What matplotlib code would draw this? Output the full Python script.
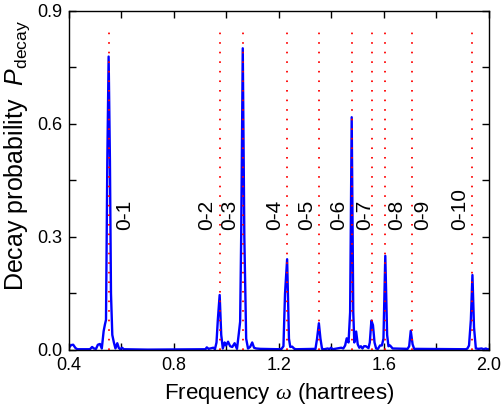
import matplotlib
matplotlib.use("Agg")
import matplotlib.pyplot as plt
from matplotlib.ticker import MultipleLocator

plt.rcParams['font.family'] = ['Liberation Sans', 'DejaVu Sans']
plt.rcParams['mathtext.fontset'] = 'custom'
plt.rcParams['mathtext.rm'] = 'Liberation Sans'
plt.rcParams['mathtext.it'] = 'Liberation Sans:italic'
plt.rcParams['mathtext.sf'] = 'Liberation Serif:italic'

# Decay spectrum (frequency in hartrees, probability)
freq = [0.400, 0.408, 0.416, 0.425, 0.432, 0.480, 0.488, 0.495, 0.503, 0.510,
        0.518, 0.525, 0.532, 0.537, 0.541, 0.546, 0.551, 0.556, 0.560, 0.565,
        0.571, 0.577, 0.584, 0.590, 0.596, 0.602, 0.609, 0.700, 0.920, 0.925,
        0.932, 0.950, 0.956, 0.962, 0.967, 0.974, 0.980, 0.986, 0.993, 0.998,
        1.006, 1.014, 1.022, 1.031, 1.040, 1.047, 1.052, 1.056, 1.062, 1.068,
        1.075, 1.082, 1.090, 1.098, 1.105, 1.113, 1.129, 1.200, 1.210, 1.217,
        1.223, 1.231, 1.238, 1.243, 1.250, 1.259, 1.266, 1.339, 1.345, 1.352,
        1.358, 1.364, 1.372, 1.386, 1.392, 1.398, 1.405, 1.437, 1.445, 1.452,
        1.458, 1.465, 1.471, 1.477, 1.483, 1.487, 1.494, 1.500, 1.506, 1.512,
        1.518, 1.524, 1.531, 1.541, 1.546, 1.552, 1.558, 1.564, 1.570, 1.577,
        1.585, 1.592, 1.598, 1.605, 1.612, 1.617, 1.623, 1.633, 1.690, 1.696,
        1.702, 1.709, 1.715, 1.912, 1.918, 1.924, 1.931, 1.937, 1.943, 1.950,
        1.960, 1.972, 1.980, 1.988, 1.994, 2.000]
prob = [0.006, 0.013, 0.014, 0.005, 0.002, 0.002, 0.008, 0.004, 0.003, 0.014,
        0.016, 0.004, 0.050, 0.068, 0.080, 0.500, 0.779, 0.500, 0.150, 0.040,
        0.020, 0.004, 0.018, 0.005, 0.002, 0.006, 0.002, 0.001, 0.002, 0.007,
        0.003, 0.006, 0.002, 0.020, 0.080, 0.146, 0.040, 0.004, 0.020, 0.012,
        0.022, 0.010, 0.008, 0.018, 0.003, 0.044, 0.075, 0.300, 0.801, 0.300,
        0.030, 0.004, 0.008, 0.020, 0.006, 0.004, 0.003, 0.002, 0.003, 0.010,
        0.150, 0.241, 0.030, 0.008, 0.009, 0.003, 0.002, 0.003, 0.030, 0.071,
        0.030, 0.003, 0.002, 0.004, 0.002, 0.006, 0.002, 0.006, 0.004, 0.012,
        0.031, 0.020, 0.100, 0.618, 0.100, 0.020, 0.049, 0.015, 0.006, 0.010,
        0.004, 0.010, 0.010, 0.005, 0.020, 0.078, 0.066, 0.020, 0.004, 0.003,
        0.012, 0.012, 0.030, 0.250, 0.040, 0.010, 0.012, 0.004, 0.003, 0.010,
        0.051, 0.015, 0.003, 0.002, 0.004, 0.012, 0.080, 0.199, 0.060, 0.004,
        0.003, 0.004, 0.002, 0.004, 0.002, 0.002]

# Transition frequencies and labels
trans_freq = [0.552, 0.974, 1.062, 1.231, 1.353, 1.477, 1.555, 1.605, 1.706, 1.937]
trans_labels = ['0-1', '0-2', '0-3', '0-4', '0-5', '0-6', '0-7', '0-8', '0-9', '0-10']
label_right_side = ['0-1', '0-8', '0-9']
line_top = 0.848

fig = plt.figure(figsize=(5.01, 4.18), dpi=100)
ax = fig.add_axes([0.1377, 0.1627, 0.8383, 0.811])

for f in trans_freq:
    ax.plot([f, f], [0, line_top], color='red', lw=1.3,
            linestyle=(0, (0.9, 4.4)), zorder=3)

ax.plot(freq, prob, color='#0000ff', lw=1.7, zorder=2)

for f, lab in zip(trans_freq, trans_labels):
    if lab in label_right_side:
        off = 0.024 if lab == '0-1' else 0.006
        ax.text(f + off, 0.318, lab, rotation=90, ha='left', va='bottom', fontsize=15)
    else:
        off = -0.006 if lab == '0-7' else 0.012
        ax.text(f - off, 0.318, lab, rotation=90, ha='right', va='bottom', fontsize=15)

ax.set_xlim(0.4, 2.0)
ax.set_ylim(0.0, 0.9)
ax.xaxis.set_major_locator(MultipleLocator(0.4))
ax.xaxis.set_minor_locator(MultipleLocator(0.2))
ax.yaxis.set_major_locator(MultipleLocator(0.3))
ax.yaxis.set_minor_locator(MultipleLocator(0.15))
ax.xaxis.set_major_formatter(plt.FormatStrFormatter('%.1f'))
ax.yaxis.set_major_formatter(plt.FormatStrFormatter('%.1f'))
ax.tick_params(which='both', direction='in', top=True, right=True, labelsize=13, width=1)
ax.tick_params(which='major', length=5, pad=5)
ax.tick_params(which='minor', length=5)
for s in ax.spines.values():
    s.set_linewidth(1.0)

ax.set_xlabel(r'Frequency $\mathsf{\omega}$ (hartrees)', fontsize=16, labelpad=5)
ax.set_ylabel(r'Decay probability  $P_{\rm decay}$', fontsize=18)
ax.yaxis.set_label_coords(-0.088, 0.575)

fig.savefig('out.png', dpi=100)
